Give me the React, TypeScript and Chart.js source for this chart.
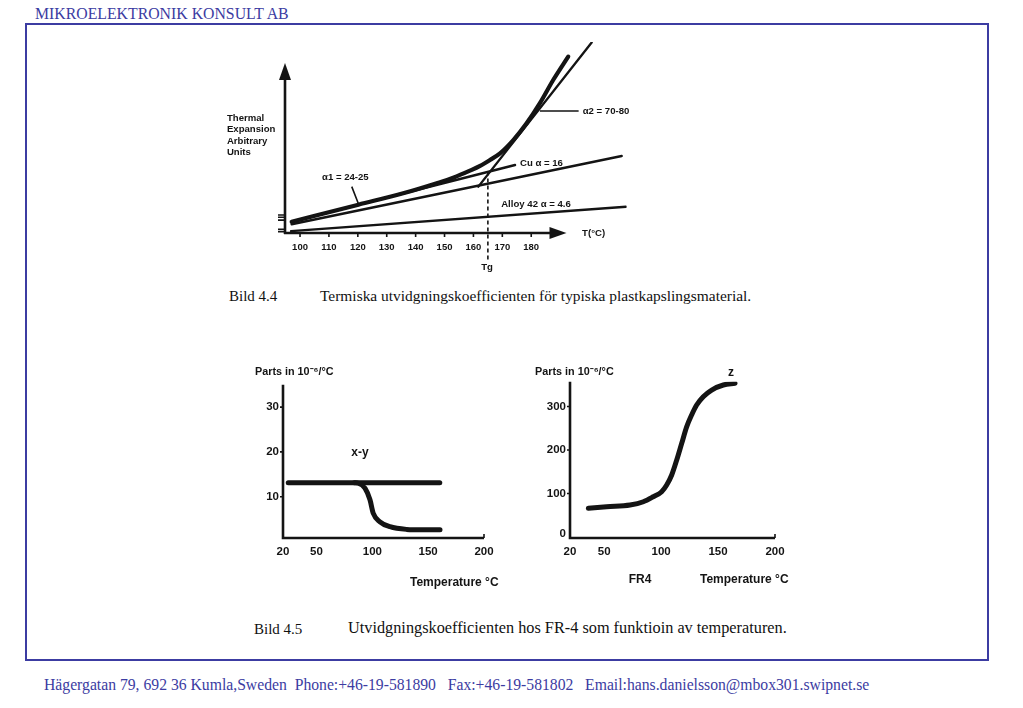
import React, { useEffect, useRef } from "react";
import { Chart, registerables } from "chart.js";
Chart.register(...registerables);

// ---------- Bild 4.4 (thermal expansion, arbitrary units) ----------
const tempTicks1 = [100, 110, 120, 130, 140, 150, 160, 170, 180];
const polymerT = [97.1, 120.2, 135.7, 147.3, 153.0, 158.8, 162.3, 165.7, 169.2, 173.8, 178.4, 183.0, 187.6, 192.8];
const polymerY = [5.9, 14.9, 20.9, 26.2, 29.1, 32.8, 35.3, 38.4, 41.9, 48.9, 57.7, 68.3, 80.5, 92.8];
const alpha1T = [97.1, 174.4];
const alpha1Y = [5.9, 35.8];
const cuT = [97.1, 211.3];
const cuY = [4.6, 40.5];
const alloyT = [96.9, 212.8];
const alloyY = [1.0, 13.8];
const alpha2T = [161.7, 200.9];
const alpha2Y = [24.4, 100.2];
const tgT = [165, 165];
const tgY = [32.3, -14];
const yStubs1 = [9.5, 8.3, 6.8, 1.95, 0.7];

// ---------- Bild 4.5 left (x-y) ----------
const xyTicksX = [20, 50, 100, 150, 200];
const xyTicksY = [10, 20, 30];
const xyFlatT = [24.7, 160.4];
const xyFlatY = [13.1, 13.1];
const xyDropT = [84.0, 87.4, 93.4, 97.9, 100.8, 106.8, 115.8, 130.7, 145.6, 160.6];
const xyDropY = [13.1, 13.0, 11.9, 9.3, 6.3, 4.4, 3.3, 2.7, 2.6, 2.6];

// ---------- Bild 4.5 right (z) ----------
const zTicksX = [20, 50, 100, 150, 200];
const zTicksY = [0, 100, 200, 300];
const zT = [36.1, 52.2, 72.7, 84.4, 93.1, 100.5, 104.9, 109.3, 113.7, 118.1, 122.5, 126.8, 131.2, 137.0, 144.4, 154.6, 164.9];
const zY = [66, 69.7, 73.6, 81.1, 92.6, 104.1, 119.5, 142.5, 177, 215.4, 253.6, 280.5, 303.4, 322.5, 337.9, 349.4, 353.3];

const INK = "#141414";
const SANS = '"Liberation Sans", Arial, sans-serif';
const BLUE = "#3c3ca2";

const pts = (xs: number[], ys: number[]) => xs.map((x, i) => ({ x, y: ys[i] }));

type Lbl = { t: string; x: number; y: number; a?: CanvasTextAlign; f?: string };

function line(data: { x: number; y: number }[], w: number, extra: any = {}) {
  return {
    data,
    borderColor: INK,
    borderWidth: w,
    pointRadius: 0,
    fill: false,
    tension: 0,
    borderCapStyle: "round",
    borderJoinStyle: "round",
    ...extra,
  };
}

function drawArrow(ctx: CanvasRenderingContext2D, x: number, y: number, dir: "up" | "right") {
  ctx.beginPath();
  if (dir === "up") {
    ctx.moveTo(x, y);
    ctx.lineTo(x - 6, y + 17);
    ctx.lineTo(x + 6, y + 17);
  } else {
    ctx.moveTo(x, y);
    ctx.lineTo(x - 17, y - 6);
    ctx.lineTo(x - 17, y + 6);
  }
  ctx.closePath();
  ctx.fill();
}

function labels(chart: any, list: Lbl[], font: string) {
  const ctx = chart.ctx as CanvasRenderingContext2D;
  const sx = chart.scales.x;
  const sy = chart.scales.y;
  ctx.fillStyle = INK;
  ctx.textBaseline = "middle";
  list.forEach((l) => {
    ctx.font = l.f || font;
    ctx.textAlign = l.a || "left";
    ctx.fillText(l.t, sx.getPixelForValue(l.x), sy.getPixelForValue(l.y));
  });
}

const labels1: Lbl[] = [
  { t: "Thermal", x: 74.7, y: 60.5 },
  { t: "Expansion", x: 74.7, y: 54.5 },
  { t: "Arbitrary", x: 74.7, y: 48.4 },
  { t: "Units", x: 74.7, y: 42.6 },
  { t: "\u03b11 = 24-25", x: 107.6, y: 29.5 },
  { t: "Cu \u03b1 = 16", x: 176.1, y: 36.7 },
  { t: "\u03b12 = 70-80", x: 197.8, y: 64.2 },
  { t: "Alloy 42 \u03b1 = 4.6", x: 169.6, y: 15.3 },
  { t: "T(\u00b0C)", x: 197.6, y: 0 },
  { t: "Tg", x: 164.7, y: -18.0, a: "center" },
];

function ChartBox(props: { left: number; top: number; w: number; h: number; make: (c: HTMLCanvasElement) => Chart }) {
  const ref = useRef<HTMLCanvasElement | null>(null);
  useEffect(() => {
    const ch = props.make(ref.current as HTMLCanvasElement);
    return () => ch.destroy();
  }, []);
  return (
    <div style={{ position: "absolute", left: props.left, top: props.top, width: props.w, height: props.h }}>
      <canvas ref={ref} width={props.w} height={props.h} style={{ width: props.w, height: props.h }} />
    </div>
  );
}

const baseOpts = (pad: any, xmin: number, xmax: number, ymin: number, ymax: number) => ({
  responsive: false,
  animation: false as const,
  layout: { padding: pad },
  plugins: { legend: { display: false }, tooltip: { enabled: false } },
  scales: {
    x: { type: "linear" as const, min: xmin, max: xmax, display: false },
    y: { type: "linear" as const, min: ymin, max: ymax, display: false },
  },
});

function makeChart1(c: HTMLCanvasElement) {
  return new Chart(c, {
    type: "line",
    data: {
      datasets: [
        line(pts(alloyT, alloyY), 2.4) as any,
        line(pts(cuT, cuY), 2.4) as any,
        line(pts(alpha1T, alpha1Y), 2.4) as any,
        line(pts(alpha2T, alpha2Y), 2.4) as any,
        line(pts(polymerT, polymerY), 4.2, { cubicInterpolationMode: "monotone" }) as any,
        line(pts(tgT, tgY), 1.6, { borderDash: [4, 3], borderCapStyle: "butt", clip: false }) as any,
      ],
    },
    options: baseOpts({ left: 65, right: 13.4, top: 6, bottom: 47 }, 94.8, 213, 0, 100.5) as any,
    plugins: [
      {
        id: "axes1",
        afterDatasetsDraw(chart: any) {
          const ctx = chart.ctx as CanvasRenderingContext2D;
          const sx = chart.scales.x;
          const sy = chart.scales.y;
          const x0 = sx.getPixelForValue(94.8);
          const y0 = sy.getPixelForValue(0);
          ctx.save();
          ctx.strokeStyle = INK;
          ctx.fillStyle = INK;
          ctx.lineWidth = 2.6;
          ctx.beginPath();
          ctx.moveTo(x0, y0 + 1);
          ctx.lineTo(x0, sy.getPixelForValue(85));
          ctx.moveTo(x0 - 1, y0);
          ctx.lineTo(sx.getPixelForValue(186.5), y0);
          ctx.stroke();
          drawArrow(ctx, x0, sy.getPixelForValue(89.5), "up");
          drawArrow(ctx, sx.getPixelForValue(192.2), y0, "right");
          ctx.lineWidth = 1.6;
          ctx.beginPath();
          yStubs1.forEach((v) => {
            const yy = sy.getPixelForValue(v);
            ctx.moveTo(x0 - 7, yy);
            ctx.lineTo(x0, yy);
          });
          tempTicks1.forEach((t) => {
            const xx = sx.getPixelForValue(t);
            ctx.moveTo(xx, y0);
            ctx.lineTo(xx, y0 + 4);
          });
          // pointers
          ctx.moveTo(sx.getPixelForValue(117.9), sy.getPixelForValue(24.4));
          ctx.lineTo(sx.getPixelForValue(120.2), sy.getPixelForValue(15.4));
          ctx.moveTo(sx.getPixelForValue(183.0), sy.getPixelForValue(64.2));
          ctx.lineTo(sx.getPixelForValue(196.4), sy.getPixelForValue(64.2));
          ctx.stroke();
          ctx.textBaseline = "middle";
          ctx.textAlign = "center";
          ctx.font = `bold 9.5px ${SANS}`;
          tempTicks1.forEach((t) => {
            ctx.fillText(String(t), sx.getPixelForValue(t), y0 + 14);
          });
          labels(chart, labels1, `bold 9.6px ${SANS}`);
          ctx.restore();
        },
      },
    ],
  });
}

function makeSmall(
  c: HTMLCanvasElement,
  series: { x: number; y: number }[][],
  pad: any,
  ymin: number,
  ymax: number,
  ticksX: number[],
  ticksY: number[],
  lbls: Lbl[],
  smooth: boolean
) {
  return new Chart(c, {
    type: "line",
    data: {
      datasets: series.map((s) => line(s, 5, smooth ? { cubicInterpolationMode: "monotone" } : {}) as any),
    },
    options: baseOpts(pad, 20, 200, ymin, ymax) as any,
    plugins: [
      {
        id: "axes2",
        afterDatasetsDraw(chart: any) {
          const ctx = chart.ctx as CanvasRenderingContext2D;
          const sx = chart.scales.x;
          const sy = chart.scales.y;
          const x0 = sx.getPixelForValue(20);
          const x1 = sx.getPixelForValue(200);
          const y0 = sy.getPixelForValue(ymin);
          const y1 = sy.getPixelForValue(ymax);
          ctx.save();
          ctx.strokeStyle = INK;
          ctx.fillStyle = INK;
          ctx.lineWidth = 2.6;
          ctx.beginPath();
          ctx.moveTo(x0, y1);
          ctx.lineTo(x0, y0 + 1);
          ctx.lineTo(x1, y0 + 1);
          ctx.stroke();
          ctx.lineWidth = 1.6;
          ctx.beginPath();
          ticksY.forEach((v) => {
            if (v === ymin) return;
            const yy = sy.getPixelForValue(v);
            ctx.moveTo(x0 - 3, yy);
            ctx.lineTo(x0, yy);
          });
          ctx.moveTo(x1, y0 + 1);
          ctx.lineTo(x1, y0 - 3);
          ctx.stroke();
          ctx.font = `bold 11.5px ${SANS}`;
          ctx.textBaseline = "middle";
          ctx.textAlign = "right";
          ticksY.forEach((v) => {
            ctx.fillText(String(v), x0 - 4, sy.getPixelForValue(v) + (v === ymin ? -3 : 0));
          });
          ctx.textAlign = "center";
          ticksX.forEach((v) => {
            ctx.fillText(String(v), sx.getPixelForValue(v), y0 + 15);
          });
          labels(chart, lbls, `bold 12px ${SANS}`);
          ctx.restore();
        },
      },
    ],
  });
}

const PARTS_FONT = `bold 10.8px ${SANS}`;
const labelsXY: Lbl[] = [
  { t: "Parts in 10\u207b\u2076/\u00b0C", x: -5.1, y: 37.8, f: PARTS_FONT },
  { t: "x-y", x: 88.9, y: 19.75, a: "center" },
  { t: "Temperature \u00b0C", x: 133.7, y: -9.3 },
];
const labelsZ: Lbl[] = [
  { t: "Parts in 10\u207b\u2076/\u00b0C", x: -10.7, y: 379.3, f: PARTS_FONT },
  { t: "z", x: 161.4, y: 377, a: "center" },
  { t: "FR4", x: 81.5, y: -98.9, a: "center" },
  { t: "Temperature \u00b0C", x: 134.1, y: -98.9 },
];

const serif = '"Liberation Serif", "Times New Roman", serif';

export default function App() {
  return (
    <div style={{ position: "absolute", left: 0, top: 0, width: 1023, height: 708, background: "#fff", overflow: "hidden" }}>
      <div style={{ position: "absolute", left: 35, top: 6, fontFamily: serif, fontSize: 15.8, lineHeight: "16px", color: BLUE, whiteSpace: "nowrap" }}>
        MIKROELEKTRONIK KONSULT AB
      </div>
      <div style={{ position: "absolute", left: 25, top: 23, width: 964, height: 638, border: `2px solid ${BLUE}`, boxSizing: "border-box" }} />
      <ChartBox left={220} top={36} w={420} h={244} make={makeChart1} />
      <ChartBox
        left={240}
        top={360}
        w={270}
        h={240}
        make={(c) =>
          makeSmall(c, [pts(xyFlatT, xyFlatY), pts(xyDropT, xyDropY)], { left: 43, right: 26, top: 24.7, bottom: 63 }, 1, 35, xyTicksX, xyTicksY, labelsXY, true)
        }
      />
      <ChartBox
        left={520}
        top={360}
        w={280}
        h={240}
        make={(c) => makeSmall(c, [pts(zT, zY)], { left: 50, right: 25, top: 21.7, bottom: 63 }, 0, 357, zTicksX, zTicksY, labelsZ, true)}
      />
      <div style={{ position: "absolute", left: 229, top: 287, fontFamily: serif, fontSize: 15, lineHeight: "18px", color: "#111", whiteSpace: "nowrap" }}>Bild 4.4</div>
      <div style={{ position: "absolute", left: 320, top: 287, fontFamily: serif, fontSize: 15.45, lineHeight: "18px", color: "#111", whiteSpace: "nowrap" }}>
        Termiska utvidgningskoefficienten för typiska plastkapslingsmaterial.
      </div>
      <div style={{ position: "absolute", left: 254, top: 620, fontFamily: serif, fontSize: 15, lineHeight: "18px", color: "#111", whiteSpace: "nowrap" }}>Bild 4.5</div>
      <div style={{ position: "absolute", left: 348, top: 619, fontFamily: serif, fontSize: 16.3, lineHeight: "18px", color: "#111", whiteSpace: "nowrap" }}>
        Utvidgningskoefficienten hos FR-4 som funktioin av temperaturen.
      </div>
      <div style={{ position: "absolute", left: 44, top: 676, fontFamily: serif, fontSize: 15.7, lineHeight: "18px", color: BLUE, whiteSpace: "pre" }}>
        {"Hägergatan 79, 692 36 Kumla,Sweden  Phone:+46-19-581890   Fax:+46-19-581802   Email:hans.danielsson@mbox301.swipnet.se"}
      </div>
    </div>
  );
}
